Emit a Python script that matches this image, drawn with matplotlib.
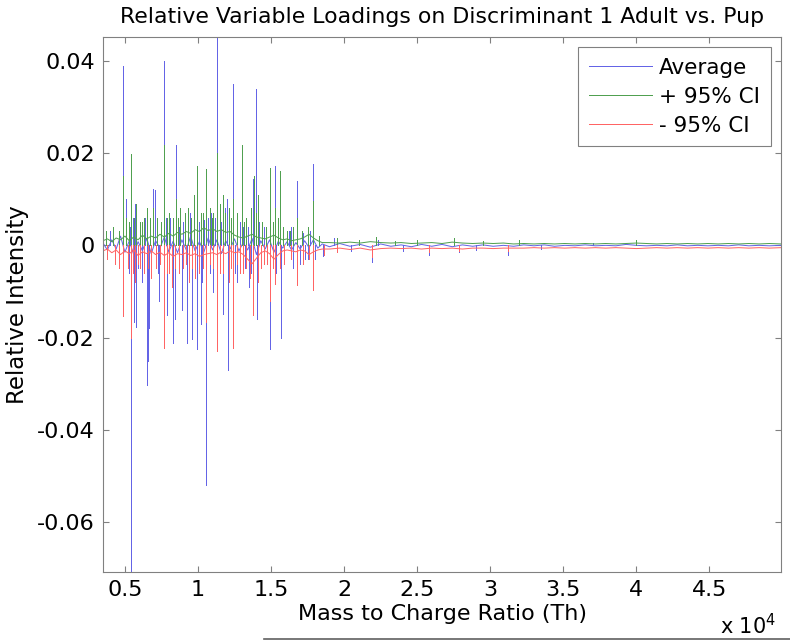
import numpy as np
import matplotlib
matplotlib.use("Agg")
import matplotlib.pyplot as plt
from matplotlib.lines import Line2D

plt.rcParams["font.family"] = ["DejaVu Sans"]

# m/z grid of the sampled baselines
mz = [3500, 3800, 4100, 4400, 4700, 5000, 5300, 5600, 5900, 6200,
      6500, 6800, 7100, 7400, 7700, 8000, 8300, 8600, 8900, 9200,
      9500, 9800, 10100, 10400, 10700, 11000, 11300, 11600, 11900, 12200,
      12500, 12800, 13100, 13400, 13700, 14000, 14300, 14600, 14900, 15200,
      15500, 15800, 16100, 16400, 16700, 17000, 17300, 17600, 17900, 18200,
      18500,
      19000, 19700, 20400, 21100, 21800, 22500, 23200, 23900, 24600, 25300,
      26000, 26700, 27400, 28100, 28800, 29500, 30200, 30900, 31600, 32300,
      33000, 33700, 34400, 35100, 35800, 36500, 37200, 37900, 38600, 39300,
      40000, 40700, 41400, 42100, 42800, 43500, 44200, 44900, 45600, 46300,
      47000, 47700, 48400, 49100, 49900]

avg_base = [0.0005, -0.0010, 0.0012, -0.0008, 0.0020, -0.0015, 0.0010, -0.0020, 0.0008, -0.0012,
            0.0015, -0.0018, 0.0010, -0.0006, 0.0018, -0.0014, 0.0009, -0.0016, 0.0012, -0.0010,
            0.0020, -0.0012, 0.0008, -0.0015, 0.0016, -0.0010, 0.0012, -0.0018, 0.0010, -0.0008,
            0.0014, -0.0012, 0.0006, -0.0010, 0.0015, -0.0020, 0.0010, -0.0008, 0.0012, -0.0015,
            0.0009, -0.0006, 0.0008, -0.0010, 0.0006, -0.0008, 0.0010, -0.0005, 0.0012, -0.0006,
            0.0003,
            -0.0003, 0.0004, -0.0002, 0.0002, -0.0004, 0.0003, -0.0002, 0.0001, -0.0003, 0.0002,
            -0.0002, 0.0002, -0.0003, 0.0001, -0.0002, 0.0001, -0.0002, 0.0000, -0.0002, 0.0001,
            -0.0001, 0.0001, -0.0002, 0.0000, -0.0001, 0.0001, -0.0001, 0.0000, -0.0001, 0.0002,
            0.0000, -0.0001, 0.0000, -0.0001, 0.0001, -0.0001, 0.0000, -0.0001, 0.0000, -0.0001,
            0.0001, -0.0001, 0.0000, -0.0001, 0.0000]

upper_base = [0.0010, 0.0014, 0.0008, 0.0016, 0.0012, 0.0020, 0.0010, 0.0018, 0.0012, 0.0022,
              0.0014, 0.0020, 0.0016, 0.0024, 0.0018, 0.0026, 0.0020, 0.0028, 0.0024, 0.0030,
              0.0026, 0.0034, 0.0030, 0.0038, 0.0032, 0.0036, 0.0030, 0.0034, 0.0028, 0.0030,
              0.0022, 0.0018, 0.0016, 0.0020, 0.0024, 0.0018, 0.0016, 0.0014, 0.0018, 0.0022,
              0.0016, 0.0012, 0.0014, 0.0010, 0.0012, 0.0014, 0.0018, 0.0024, 0.0016, 0.0010,
              0.0006,
              0.0006, 0.0005, 0.0007, 0.0005, 0.0008, 0.0006, 0.0005, 0.0006, 0.0004, 0.0005,
              0.0006, 0.0004, 0.0007, 0.0005, 0.0004, 0.0005, 0.0004, 0.0005, 0.0003, 0.0004,
              0.0003, 0.0004, 0.0003, 0.0004, 0.0003, 0.0004, 0.0003, 0.0004, 0.0003, 0.0004,
              0.0005, 0.0004, 0.0003, 0.0004, 0.0003, 0.0004, 0.0003, 0.0004, 0.0003, 0.0004,
              0.0003, 0.0004, 0.0003, 0.0004, 0.0003]

lower_base = [-0.0012, -0.0008, -0.0016, -0.0010, -0.0020, -0.0012, -0.0018, -0.0010, -0.0022, -0.0014,
              -0.0018, -0.0012, -0.0020, -0.0015, -0.0022, -0.0016, -0.0024, -0.0018, -0.0020, -0.0016,
              -0.0022, -0.0018, -0.0024, -0.0020, -0.0018, -0.0016, -0.0020, -0.0014, -0.0018, -0.0012,
              -0.0016, -0.0014, -0.0020, -0.0030, -0.0040, -0.0028, -0.0016, -0.0012, -0.0018, -0.0030,
              -0.0020, -0.0012, -0.0010, -0.0012, -0.0014, -0.0010, -0.0012, -0.0020, -0.0014, -0.0010,
              -0.0008,
              -0.0008, -0.0006, -0.0009, -0.0006, -0.0010, -0.0007, -0.0006, -0.0007, -0.0006, -0.0008,
              -0.0006, -0.0007, -0.0006, -0.0008, -0.0006, -0.0006, -0.0007, -0.0006, -0.0006, -0.0006,
              -0.0005, -0.0006, -0.0005, -0.0006, -0.0005, -0.0006, -0.0005, -0.0006, -0.0005, -0.0006,
              -0.0007, -0.0006, -0.0005, -0.0006, -0.0005, -0.0006, -0.0005, -0.0006, -0.0005, -0.0006,
              -0.0005, -0.0006, -0.0005, -0.0006, -0.0005]

# narrow peaks (m/z, loading)
avg_pk_mz = [4884, 5100, 5250, 5430, 5520, 5640, 5700, 5750, 6000, 6200,
             6400, 6500, 6560, 6620, 6940, 7080, 7350, 7500, 7670, 7900,
             8100, 8300, 8450, 8490, 8700, 8900, 9100, 9270, 9450, 9610,
             9750, 9945, 10050, 10200, 10400, 10565, 10700, 10900, 11000, 11320,
             11500, 11700, 11850, 12000, 12075, 12250, 12414, 12700, 12850, 13200,
             13450, 13500, 13790, 13990, 14050, 14300, 14500, 14930, 15100, 15270,
             15450, 15660, 15900, 16200, 16500, 16800, 17000, 17190, 17500, 17850,
             18000, 18560, 19300, 20500, 21890, 22300, 24000, 25810, 27870, 29000,
             31220, 33500, 37000,
             4000, 4300, 4600, 5350, 5900, 6700, 7250, 7800, 8200, 8600,
             9000, 9800, 10300, 10800, 11150, 11600, 12550, 13100, 13650, 14200,
             14700, 15350, 15800, 16400, 17300, 17700]
avg_pk_val = [0.0389, 0.0100, -0.0060, -0.0707, 0.0060, -0.0165, 0.0090, -0.0176, 0.0045, -0.0080,
              0.0060, -0.0303, -0.0250, -0.0180, 0.0122, 0.0120, -0.0120, 0.0050, 0.0400, -0.0150,
              0.0060, -0.0212, -0.0160, 0.0217, 0.0040, -0.0140, 0.0060, -0.0212, 0.0070, -0.0203,
              0.0060, -0.0225, 0.0050, -0.0170, 0.0055, -0.0519, 0.0060, 0.0070, -0.0100, 0.0452,
              -0.0060, -0.0148, 0.0080, 0.0100, -0.0270, 0.0060, 0.0349, -0.0080, 0.0050, -0.0050,
              0.0040, -0.0090, 0.0143, 0.0338, -0.0160, -0.0050, 0.0040, -0.0225, 0.0050, 0.0172,
              0.0060, -0.0201, -0.0040, 0.0030, -0.0050, 0.0139, -0.0040, 0.0027, -0.0030, 0.0177,
              -0.0030, -0.0022, 0.0015, -0.0012, -0.0035, 0.0012, -0.0012, -0.0020, -0.0015, -0.0010,
              -0.0020, -0.0008, 0.0006,
              0.0030, -0.0040, 0.0020, 0.0040, -0.0050, 0.0050, -0.0060, 0.0060, -0.0050, 0.0040,
              0.0050, -0.0060, -0.0080, -0.0060, 0.0060, 0.0050, -0.0060, 0.0040, -0.0060, 0.0050,
              -0.0040, -0.0060, 0.0040, 0.0040, -0.0030, 0.0030]

upper_pk_mz = [4884, 5100, 5430, 5750, 6000, 6300, 6500, 6940, 7200, 7670,
               8000, 8300, 8490, 8800, 9100, 9300, 9500, 9700, 9945, 10200,
               10545, 10800, 11050, 11320, 11500, 11700, 12100, 12400, 12700, 12990,
               13300, 13600, 13800, 14100, 14400, 14930, 15270, 15610, 16100, 16500,
               16800, 17850, 17900, 18300, 19500, 21000, 22200, 23500, 25000, 27500,
               29500, 32000, 40000,
               3700, 4200, 4600, 5300, 5600, 6150, 6700, 7450, 7850, 8650,
               9900, 10350, 10950, 11850, 12250, 13150, 13950, 14650, 15100, 15450,
               15850, 16300, 17100, 17500]
upper_pk_val = [0.0150, 0.0060, 0.0197, 0.0090, 0.0050, 0.0060, 0.0080, 0.0080, 0.0060, 0.0217,
                0.0070, 0.0060, 0.0100, 0.0080, 0.0070, 0.0080, 0.0060, 0.0110, 0.0172, 0.0070,
                0.0166, 0.0080, 0.0070, 0.0200, 0.0090, 0.0110, 0.0080, 0.0100, 0.0070, 0.0217,
                0.0060, 0.0080, 0.0150, 0.0110, 0.0050, 0.0168, 0.0080, 0.0160, 0.0030, 0.0040,
                0.0060, 0.0075, 0.0096, 0.0020, 0.0015, 0.0012, 0.0018, 0.0010, 0.0012, 0.0015,
                0.0010, 0.0012, 0.0011,
                0.0030, 0.0040, 0.0030, 0.0050, 0.0060, 0.0050, 0.0060, 0.0050, 0.0060, 0.0060,
                0.0080, 0.0070, 0.0060, 0.0070, 0.0060, 0.0050, 0.0070, 0.0040, 0.0050, 0.0060,
                0.0040, 0.0030, 0.0030, 0.0040]

lower_pk_mz = [4884, 5200, 5430, 5700, 6000, 6300, 6800, 7100, 7670, 8000,
               8200, 8700, 9000, 9400, 9800, 10100, 10565, 11000, 11320, 11700,
               12100, 12414, 12900, 13300, 13790, 14100, 14500, 14930, 15270, 15600,
               16800, 17850, 17900, 18600, 19500, 21890, 25810, 27870, 31220,
               3800, 4300, 4600, 5550, 5900, 6550, 7400, 7850, 8450, 9200,
               9600, 10350, 10800, 11500, 12250, 12700, 13100, 13550, 14300, 14700,
               15100, 15900, 16400, 17200, 17600]
lower_pk_val = [-0.0152, -0.0050, -0.0200, -0.0080, -0.0050, -0.0060, -0.0070, -0.0050, -0.0223, -0.0060,
                -0.0090, -0.0060, -0.0050, -0.0080, -0.0070, -0.0060, -0.0165, -0.0050, -0.0228, -0.0060,
                -0.0080, -0.0222, -0.0060, -0.0050, -0.0150, -0.0080, -0.0040, -0.0120, -0.0083, -0.0050,
                -0.0085, -0.0096, -0.0078, -0.0020, -0.0015, -0.0025, -0.0015, -0.0012, -0.0012,
                -0.0030, -0.0040, -0.0050, -0.0060, -0.0040, -0.0050, -0.0040, -0.0060, -0.0050, -0.0040,
                -0.0050, -0.0050, -0.0040, -0.0060, -0.0050, -0.0040, -0.0060, -0.0070, -0.0050, -0.0040,
                -0.0050, -0.0040, -0.0030, -0.0040, -0.0030]

labels = ["Average", "+ 95% CI", "- 95% CI"]
colors = ["#6464e6", "#50a050", "#ff6464"]

fig = plt.figure(figsize=(7.9, 6.42), dpi=100)
ax = fig.add_axes([103 / 790, 1 - 571.7 / 642, (781 - 103) / 790, (571.7 - 36.7) / 642])

series = [(avg_base, avg_pk_mz, avg_pk_val),
          (upper_base, upper_pk_mz, upper_pk_val),
          (lower_base, lower_pk_mz, lower_pk_val)]

handles = []
for (base, pk_mz, pk_val), lab, col in zip(series, labels, colors):
    h, = ax.plot(mz, base, color=col, lw=0.72, label=lab)
    ax.vlines(pk_mz, 0, pk_val, color=col, lw=0.72, antialiased=False, snap=True)
    handles.append(h)

ax.set_xlim(3500, 49900)
ax.set_ylim(-0.0707, 0.0452)

xt = [5000, 10000, 15000, 20000, 25000, 30000, 35000, 40000, 45000]
ax.set_xticks(xt)
ax.set_xticklabels(["0.5", "1", "1.5", "2", "2.5", "3", "3.5", "4", "4.5"])
ax.set_yticks([-0.06, -0.04, -0.02, 0, 0.02, 0.04])
ax.set_yticklabels(["-0.06", "-0.04", "-0.02", "0", "0.02", "0.04"])

ax.tick_params(direction="in", length=4.5, width=0.8, color="#808080",
               top=True, right=True, labelsize=16, pad=6)
for s in ax.spines.values():
    s.set_color("#808080")
    s.set_linewidth(0.8)

ax.set_title("Relative Variable Loadings on Discriminant 1 Adult vs. Pup", fontsize=15.8, pad=10)
ax.set_xlabel("Mass to Charge Ratio (Th)", fontsize=16, labelpad=3)
ax.set_ylabel("Relative Intensity", fontsize=16.5, labelpad=6)

leg = ax.legend(handles=handles, loc="upper right", fontsize=15.5, handlelength=2.95,
                fancybox=False, framealpha=1, edgecolor="#808080",
                borderaxespad=0.47, labelspacing=0.42, handletextpad=0.33,
                borderpad=0.5)
leg.get_frame().set_linewidth(0.8)
for line in leg.get_lines():
    line.set_linewidth(0.72)
    line.set_antialiased(False)
    line.set_snap(True)

fig.text(720 / 790, 1 - 638 / 642, "x 10$^4$", fontsize=15, ha="left", va="bottom")
fig.add_artist(Line2D([264 / 790, 1.0], [1 - 638.5 / 642] * 2, color="#606060", lw=1.2))

fig.savefig("out.png", dpi=100)
